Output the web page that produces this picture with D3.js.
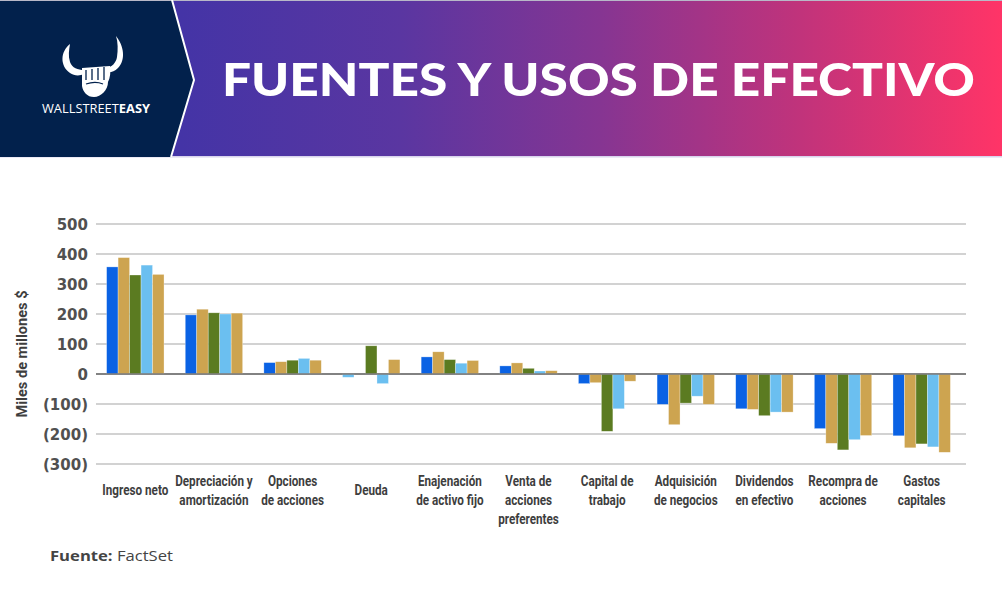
<!DOCTYPE html>
<html><head><meta charset="utf-8">
<script src="https://cdn.jsdelivr.net/npm/d3@7"></script>
<style>body{margin:0;background:#fff;}svg{display:block;}</style>
</head><body>
<svg id="c" width="1002" height="600"></svg>
<script>
const categories = [
  ["Ingreso neto"],
  ["Depreciación y","amortización"],
  ["Opciones","de acciones"],
  ["Deuda"],
  ["Enajenación","de activo fijo"],
  ["Venta de","acciones","preferentes"],
  ["Capital de","trabajo"],
  ["Adquisición","de negocios"],
  ["Dividendos","en efectivo"],
  ["Recompra de","acciones"],
  ["Gastos","capitales"]
];
const serie1 = [357, 197, 38, -11, 57, 27, -32, -101, -116, -182, -206];
const serie2 = [388, 216, 41, 0, 74, 37, -29, -169, -118, -231, -246];
const serie3 = [330, 204, 46, 94, 48, 19, -191, -97, -139, -253, -233];
const serie4 = [363, 200, 52, -32, 36, 10, -116, -74, -127, -219, -243];
const serie5 = [332, 203, 46, 48, 45, 11, -24, -101, -127, -205, -261];
const yTicks = [500, 400, 300, 200, 100, 0, -100, -200, -300];
const yTitle = "Miles de millones $";
const title = "FUENTES Y USOS DE EFECTIVO";

const series = [serie1, serie2, serie3, serie4, serie5];
const colors = ["#0a62e4", "#cda450", "#5b7b21", "#6bbff0", "#cda450"];
const condFont = "Roboto, 'Open Sans', sans-serif";

const svg = d3.select("#c");
const defs = svg.append("defs");
const grad = defs.append("linearGradient").attr("id","hg").attr("x1","0").attr("x2","1").attr("y1","0").attr("y2","0");
[[0.18,"#4434a6"],[0.4,"#5a36a1"],[0.6,"#863592"],[0.8,"#c1337b"],[1,"#ff3467"]].forEach(s=>grad.append("stop").attr("offset",s[0]).attr("stop-color",s[1]));

// header
svg.append("rect").attr("x",0).attr("y",0).attr("width",1002).attr("height",157).attr("fill","url(#hg)");
svg.append("rect").attr("x",0).attr("y",156).attr("width",1002).attr("height",1.5).attr("fill","#d8d4ec");
svg.append("rect").attr("x",0).attr("y",0).attr("width",1002).attr("height",1).attr("fill","#b8b8c8");
svg.append("path").attr("d","M0,1 L172,1 L194,80 L171,157 L0,157 Z").attr("fill","#02214c");
svg.append("path").attr("d","M172,0 L194,80 L171,157").attr("fill","none").attr("stroke","#ffffff").attr("stroke-width",2);

// logo
const lg = svg.append("g").attr("fill","#fff");
lg.append("path").attr("d","M70,44 C60,52 60,66 70,73 C74,76 80,76 84,74 L84,70 C78,70 72,68 70,62 C68,56 69,50 70,44 Z");
lg.append("path").attr("d","M116,36 C124,46 126,60 118,68 C114,72 110,73 106,72 L106,68 C112,67 116,63 117,57 C118,50 118,42 116,36 Z");
lg.append("path").attr("d","M82,68 L110,66 C111,72 110,78 108,82 C108,90 101,97 94,97 C87,97 83,92 82,86 Z");
lg.append("path").attr("d","M86,70 L86,80 M92,69 L92,80 M98,68 L98,80 M104,67 L104,80").attr("stroke","#02214c").attr("stroke-width",1.3);
lg.append("path").attr("d","M86,84 C92,82 98,82 103,84").attr("stroke","#02214c").attr("stroke-width",1.3).attr("fill","none");
const lt = svg.append("text").attr("x",42).attr("y",113).attr("fill","#fff").attr("font-family","'Open Sans',sans-serif").attr("font-size",12)
  .attr("textLength",108).attr("lengthAdjust","spacingAndGlyphs");
lt.append("tspan").attr("font-weight",400).text("WALLSTREET");
lt.append("tspan").attr("font-weight",700).text("EASY");

svg.append("text").attr("x",222).attr("y",96).attr("fill","#fff")
  .attr("font-family","Lato, 'Open Sans', sans-serif").attr("font-weight",900).attr("font-size",46)
  .attr("textLength",753).attr("lengthAdjust","spacingAndGlyphs").text(title);

// chart
const x = d3.scaleBand().domain(d3.range(categories.length)).range([96, 961]).paddingInner(0.27).paddingOuter(0.135);
const xs = d3.scaleBand().domain(d3.range(series.length)).range([0, x.bandwidth()]);
const y = d3.scaleLinear().domain([-300, 500]).range([464, 224]);

const gGrid = svg.append("g");
yTicks.forEach(t=>{
  gGrid.append("line").attr("x1",96).attr("x2",966).attr("y1",y(t)).attr("y2",y(t))
    .attr("stroke", t===0 ? "#7a7a7a" : "#c3c3c3").attr("stroke-width",1.6);
});
const fmt = v => v < 0 ? "(" + Math.abs(v) + ")" : String(v);
const yAxis = d3.axisLeft(y).tickValues(yTicks).tickFormat(fmt).tickSize(0).tickPadding(0);
const ga = svg.append("g").attr("transform","translate(88,0)").call(yAxis);
ga.select(".domain").remove();
ga.selectAll("text").attr("font-family","'DejaVu Sans',sans-serif").attr("font-weight",700).attr("font-size",15).attr("fill","#505050").attr("dy","0.35em");

const colorFor = (si, ci) => (si === 0 && ci === 3) ? colors[3] : colors[si];
series.forEach((vals, si)=>{
  svg.append("g").selectAll("rect").data(vals).join("rect")
    .attr("x",(d,i)=>x(i)+xs(si))
    .attr("width",xs.bandwidth())
    .attr("y",d=>y(Math.max(0,d)))
    .attr("height",d=>Math.abs(y(d)-y(0)))
    .attr("fill",(d,i)=>colorFor(si,i))
    .attr("stroke","#ffffff").attr("stroke-opacity",0.5).attr("stroke-width",0.6);
});
svg.append("line").attr("x1",96).attr("x2",966).attr("y1",y(0)).attr("y2",y(0)).attr("stroke","#7a7a7a").attr("stroke-width",1.6);

// x labels (condensed by horizontal scaling)
const gx = svg.append("g");
const labelTexts = [];
categories.forEach((lines,i)=>{
  const cx = x(i)+x.bandwidth()/2;
  const g = gx.append("g").attr("transform",`translate(${cx},0)`);
  const t = g.append("text").attr("text-anchor","middle")
    .attr("font-family",condFont).attr("font-weight",700)
    .attr("font-size",14).attr("fill","#3e3e3e");
  const y0 = lines.length===1 ? 495 : 486;
  lines.forEach((l,k)=>t.append("tspan").attr("x",0).attr("y",y0+k*19).text(l));
  labelTexts.push(t);
});
// scale so that "Ingreso neto" is ~66px wide as in the reference
const w0 = labelTexts[0].node().getComputedTextLength();
const sx = 66 / w0;
labelTexts.forEach(t=>t.attr("transform",`scale(${sx},1)`));

// y title
const yt = svg.append("text").attr("transform",`translate(27,354) rotate(-90)`).attr("text-anchor","middle")
  .attr("font-family",condFont).attr("font-weight",700)
  .attr("font-size",15).attr("fill","#3e3e3e").text(yTitle);
yt.attr("textLength",127).attr("lengthAdjust","spacingAndGlyphs");

// source
const src = svg.append("text").attr("x",50).attr("y",561).attr("font-family","'Open Sans',sans-serif").attr("font-size",15).attr("fill","#444")
  .attr("textLength",123).attr("lengthAdjust","spacingAndGlyphs");
src.append("tspan").attr("font-weight",700).text("Fuente: ");
src.append("tspan").attr("font-weight",400).text("FactSet");
</script>
</body></html>
